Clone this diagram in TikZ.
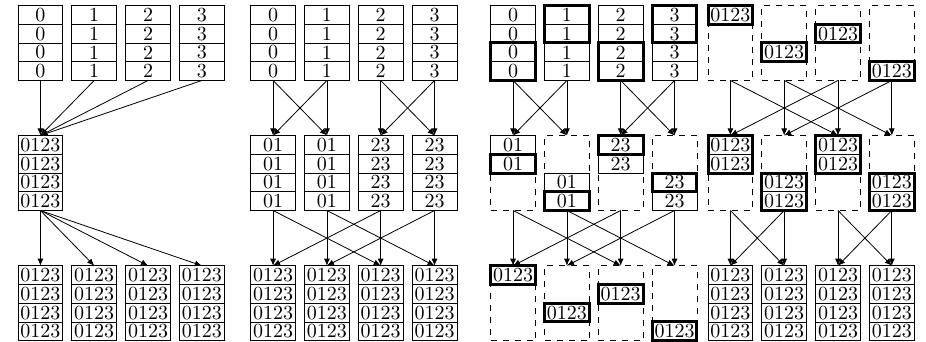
\documentclass[tikz,border=0pt]{standalone}
\usetikzlibrary{arrows.meta}
\tikzset{
  blk/.style={minimum width=22.4pt, minimum height=37.5pt, inner sep=0pt, outer sep=0pt},
  dashblk/.style={blk, draw, dashed},
  cell/.style={draw, minimum width=22.4pt, minimum height=9.375pt, inner sep=0pt, outer sep=0pt},
  thk/.style={line width=1.5pt},
  arr/.style={-{Latex[length=3.5pt,width=3pt]}},
}
% cell: name, center x, block center y, index k, text
\newcommand\mkcell[6][]{\node[cell,#1] (#2) at (#3, {#4+(#5-2.5)*18.75}) {#6};}
\begin{document}
\begin{tikzpicture}[x=0.5pt,y=-0.5pt]
\useasboundingbox (0,0) rectangle (926,342);
\def\yT{43}
\def\yM{173}
\def\yB{303.2}
% ================= Panel A =================
\foreach \i/\xl in {0/18,1/71.8,2/125.6,3/179.4} {
  \node[blk] (A-t-\i) at (\xl+22.4,\yT) {};
  \foreach \k in {1,...,4} {\mkcell{A-t-\i-\k}{\xl+22.4}{\yT}{\k}{\i}}
  \node[blk] (A-b-\i) at (\xl+22.4,\yB) {};
  \foreach \k in {1,...,4} {\mkcell{A-b-\i-\k}{\xl+22.4}{\yB}{\k}{0123}}
}
\node[blk] (A-m-0) at (40.4,\yM) {};
\foreach \k in {1,...,4} {\mkcell{A-m-0-\k}{40.4}{\yM}{\k}{0123}}
\foreach \i in {0,...,3} {
  \draw[arr] (A-t-\i.south) -- (A-m-0.north);
  \draw[arr] (A-m-0.south) -- (A-b-\i.north);
}
% ================= Panel B =================
\foreach \i/\xl/\t in {0/250.7/01,1/304.5/01,2/358.3/23,3/412.1/23} {
  \node[blk] (B-t-\i) at (\xl+22.4,\yT) {};
  \foreach \k in {1,...,4} {\mkcell{B-t-\i-\k}{\xl+22.4}{\yT}{\k}{\i}}
  \node[blk] (B-m-\i) at (\xl+22.4,\yM) {};
  \foreach \k in {1,...,4} {\mkcell{B-m-\i-\k}{\xl+22.4}{\yM}{\k}{\t}}
  \node[blk] (B-b-\i) at (\xl+22.4,\yB) {};
  \foreach \k in {1,...,4} {\mkcell{B-b-\i-\k}{\xl+22.4}{\yB}{\k}{0123}}
}
\foreach \s/\d in {0/0,0/1,1/0,1/1,2/2,2/3,3/2,3/3} {\draw[arr] (B-t-\s.south) -- (B-m-\d.north);}
\foreach \s/\d in {0/0,0/2,1/1,1/3,2/2,2/0,3/3,3/1} {\draw[arr] (B-m-\s.south) -- (B-b-\d.north);}
% ================= Panel C =================
\foreach \i/\xl in {0/490.7,1/544.5,2/598.3,3/652.1} {
  \node[blk] (C-t-\i) at (\xl+22.4,\yT) {};
  \foreach \k in {1,...,4} {\mkcell{C-t-\i-\k}{\xl+22.4}{\yT}{\k}{\i}}
  \node[dashblk] (C-m-\i) at (\xl+22.4,\yM) {};
  \node[dashblk] (C-b-\i) at (\xl+22.4,\yB) {};
}
\draw[thk] (C-t-0-3.north west) rectangle (C-t-0-4.south east);
\draw[thk] (C-t-1-1.north west) rectangle (C-t-1-2.south east);
\draw[thk] (C-t-2-3.north west) rectangle (C-t-2-4.south east);
\draw[thk] (C-t-3-1.north west) rectangle (C-t-3-2.south east);
% middle
\mkcell{C-m-0-1}{513.1}{\yM}{1}{01}
\mkcell[thk]{C-m-0-2}{513.1}{\yM}{2}{01}
\mkcell{C-m-1-3}{566.9}{\yM}{3}{01}
\mkcell[thk]{C-m-1-4}{566.9}{\yM}{4}{01}
\mkcell{C-m-2-2}{620.7}{\yM}{2}{23}
\mkcell[thk]{C-m-2-1}{620.7}{\yM}{1}{23}
\mkcell{C-m-3-4}{674.5}{\yM}{4}{23}
\mkcell[thk]{C-m-3-3}{674.5}{\yM}{3}{23}
% bottom
\mkcell[thk]{C-b-0-1}{513.1}{\yB}{1}{0123}
\mkcell[thk]{C-b-1-3}{566.9}{\yB}{3}{0123}
\mkcell[thk]{C-b-2-2}{620.7}{\yB}{2}{0123}
\mkcell[thk]{C-b-3-4}{674.5}{\yB}{4}{0123}
\foreach \s/\d in {0/0,0/1,1/0,1/1,2/2,2/3,3/2,3/3} {\draw[arr] (C-t-\s.south) -- (C-m-\d.north);}
\foreach \s/\d in {0/0,0/2,1/1,1/3,2/2,2/0,3/3,3/1} {\draw[arr] (C-m-\s.south) -- (C-b-\d.north);}
% ================= Panel D =================
\foreach \i/\xl in {0/708,1/761.8,2/815.6,3/869.4} {
  \node[dashblk] (D-t-\i) at (\xl+22.4,\yT) {};
  \node[dashblk] (D-m-\i) at (\xl+22.4,\yM) {};
  \node[blk] (D-b-\i) at (\xl+22.4,\yB) {};
  \foreach \k in {1,...,4} {\mkcell{D-b-\i-\k}{\xl+22.4}{\yB}{\k}{0123}}
}
\mkcell[thk]{D-t-0-1}{730.4}{\yT}{1}{0123}
\mkcell[thk]{D-t-1-3}{784.2}{\yT}{3}{0123}
\mkcell[thk]{D-t-2-2}{838.0}{\yT}{2}{0123}
\mkcell[thk]{D-t-3-4}{891.8}{\yT}{4}{0123}
\mkcell{D-m-0-1}{730.4}{\yM}{1}{0123}
\mkcell{D-m-0-2}{730.4}{\yM}{2}{0123}
\mkcell{D-m-1-3}{784.2}{\yM}{3}{0123}
\mkcell{D-m-1-4}{784.2}{\yM}{4}{0123}
\mkcell{D-m-2-1}{838.0}{\yM}{1}{0123}
\mkcell{D-m-2-2}{838.0}{\yM}{2}{0123}
\mkcell{D-m-3-3}{891.8}{\yM}{3}{0123}
\mkcell{D-m-3-4}{891.8}{\yM}{4}{0123}
\draw[thk] (D-m-0-1.north west) rectangle (D-m-0-2.south east);
\draw[thk] (D-m-1-3.north west) rectangle (D-m-1-4.south east);
\draw[thk] (D-m-2-1.north west) rectangle (D-m-2-2.south east);
\draw[thk] (D-m-3-3.north west) rectangle (D-m-3-4.south east);
\foreach \s/\d in {0/0,0/2,1/1,1/3,2/2,2/0,3/3,3/1} {\draw[arr] (D-t-\s.south) -- (D-m-\d.north);}
\foreach \s/\d in {0/0,0/1,1/1,1/0,2/2,2/3,3/3,3/2} {\draw[arr] (D-m-\s.south) -- (D-b-\d.north);}
\end{tikzpicture}
\end{document}
